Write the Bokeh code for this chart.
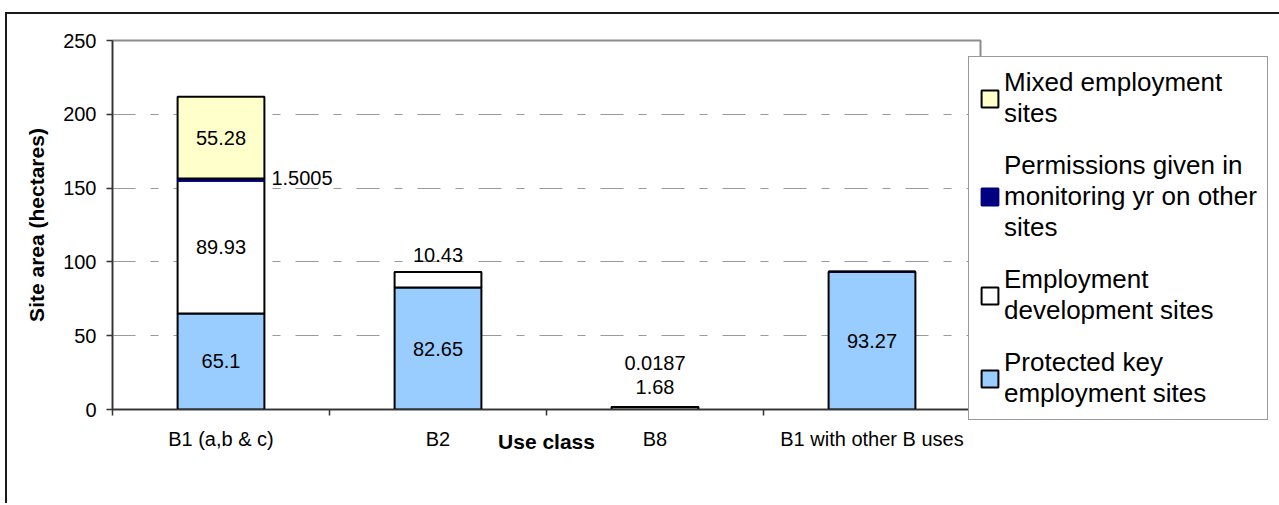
import numpy as np
from bokeh.plotting import figure
from bokeh.models import ColumnDataSource, Range1d, FixedTicker, Legend, LegendItem
from bokeh.core.properties import value
from bokeh.embed import file_html
from bokeh.resources import INLINE

# ---------------- data ----------------
categories = ["B1 (a,b & c)", "B2", "B8", "B1 with other B uses"]
protected = [65.1, 82.65, 0.0, 93.27]
employment = [89.93, 10.43, 1.68, 0.0]
permissions = [1.5005, 0.0, 0.0187, 0.0]
mixed = [55.28, 0.0, 0.0, 0.0]

series_keys = ["protected", "employment", "permissions", "mixed"]
series_names = [
    "Protected key\nemployment sites",
    "Employment\ndevelopment sites",
    "Permissions given in\nmonitoring yr on other\nsites",
    "Mixed employment\nsites",
]
y_ticks = [0, 50, 100, 150, 200, 250]
y_max = 250
x_title = "Use class"
y_title = "Site area (hectares)"

# ---------------- styles ----------------
FONT = "Liberation Sans"
fills = ["#99CCFF", "#FFFFFF", "#000080", "#FFFFCC"]
outlines = ["#000000", "#000000", "#000080", "#000000"]
AXIS_COLOR = "#333333"

# label placement: (category index, series index, anchor, x offset px, y offset px)
label_specs = [
    (0, 0, "mid", 0, 0),
    (0, 1, "mid", 0, 0),
    (0, 2, "mid", 81, -2),
    (0, 3, "mid", 0, 0),
    (1, 0, "mid", 0, 0),
    (1, 1, "top", 0, -17),
    (2, 1, "top", 0, -20),
    (2, 2, "top", 0, -44),
    (3, 0, "mid", 0, 0),
]

n = len(categories)
x_pos = np.arange(n) + 0.5
src = ColumnDataSource(dict(x=x_pos, protected=protected, employment=employment,
                            permissions=permissions, mixed=mixed))

p = figure(frame_width=868, frame_height=369,
           min_border_left=105, min_border_right=296,
           min_border_top=26, min_border_bottom=94,
           x_range=Range1d(0, n), y_range=Range1d(0, y_max),
           output_backend="svg", toolbar_location=None,
           background_fill_color="white", border_fill_color="white")
p.styles = {"border-top": "2px solid #1a1a1a", "border-left": "2px solid #1a1a1a",
            "margin-top": "12px", "margin-left": "5px"}

renderers = p.vbar_stack(series_keys, x="x", width=0.4, source=src,
                         fill_color=fills, line_color=outlines, line_width=2)

# data labels
stack = np.vstack([protected, employment, permissions, mixed])
tops = np.cumsum(stack, axis=0)
bottoms = tops - stack
lx, ly, lt, ldx, ldy = [], [], [], [], []
for c, s, anchor, dx, dy in label_specs:
    v = stack[s][c]
    lx.append(x_pos[c])
    ly.append(bottoms[s][c] + v / 2 if anchor == "mid" else tops[s][c])
    lt.append(f"{v:g}")
    ldx.append(dx)
    ldy.append(dy)
lab_src = ColumnDataSource(dict(x=lx, y=ly, text=lt, dx=ldx, dy=ldy))
p.text(x="x", y="y", text="text", x_offset="dx", y_offset="dy", source=lab_src,
       text_font=value(FONT), text_font_size="20px", text_align="center",
       text_baseline="middle", text_color="black")

# frame
p.outline_line_color = "#8c8c8c"
p.outline_line_width = 2

# grid
p.xgrid.visible = False
p.ygrid.ticker = FixedTicker(ticks=y_ticks)
p.ygrid.grid_line_color = "#999999"
p.ygrid.grid_line_width = 1
p.ygrid.grid_line_dash = "23 15 8 15"

# y axis
ya = p.yaxis[0]
ya.ticker = FixedTicker(ticks=y_ticks)
ya.axis_label = y_title
ya.axis_label_text_font = FONT
ya.axis_label_text_font_size = "21px"
ya.axis_label_text_font_style = "bold"
ya.axis_label_text_color = "black"
ya.axis_label_standoff = 12
ya.major_label_text_font = FONT
ya.major_label_text_font_size = "20px"
ya.major_label_text_color = "black"
ya.major_label_standoff = 10
ya.major_tick_out = 6
ya.major_tick_in = 0
ya.minor_tick_line_color = None
ya.axis_line_color = AXIS_COLOR
ya.axis_line_width = 1.5
ya.major_tick_line_color = AXIS_COLOR
ya.major_tick_line_width = 1.5

# x axis
xa = p.xaxis[0]
xa.ticker = FixedTicker(ticks=list(x_pos), minor_ticks=list(range(n + 1)))
xa.major_label_overrides = {float(x): c for x, c in zip(x_pos, categories)}
xa.major_label_text_font = FONT
xa.major_label_text_font_size = "20px"
xa.major_label_text_color = "black"
xa.major_label_standoff = 12
xa.major_tick_line_color = None
xa.major_tick_out = 6
xa.minor_tick_line_color = AXIS_COLOR
xa.minor_tick_line_width = 1.5
xa.minor_tick_out = 6
xa.minor_tick_in = 0
xa.axis_line_color = AXIS_COLOR
xa.axis_line_width = 1.5
xa.axis_label = x_title
xa.axis_label_text_font = FONT
xa.axis_label_text_font_size = "21px"
xa.axis_label_text_font_style = "bold"
xa.axis_label_text_color = "black"
xa.axis_label_standoff = -23

# legend (right side panel)
items = [LegendItem(label=series_names[i], renderers=[renderers[i]]) for i in reversed(range(len(series_keys)))]
legend = Legend(items=items, location=(-12, -11), orientation="vertical",
                label_text_font=FONT, label_text_font_size="26px",
                label_text_line_height=1.15, label_text_color="black",
                glyph_width=21, glyph_height=21, label_standoff=4,
                padding=10, spacing=21, margin=0,
                border_line_color="#333333", border_line_width=1,
                background_fill_color="white", background_fill_alpha=1.0)
p.add_layout(legend, "right")

open("out.html", "w").write(file_html(p, INLINE))
